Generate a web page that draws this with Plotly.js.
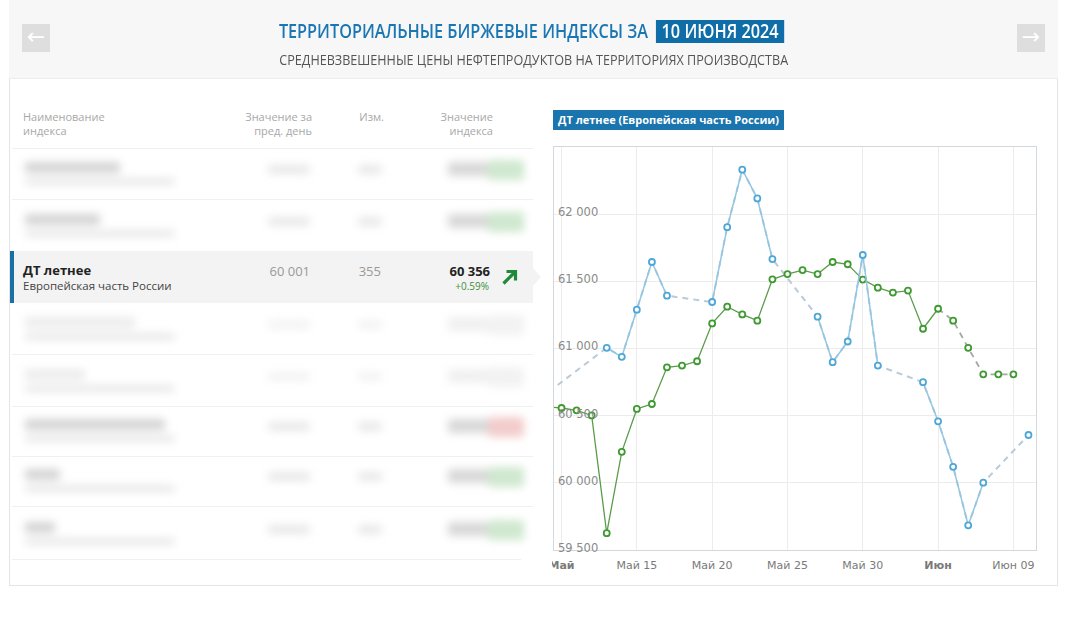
<!DOCTYPE html>
<html><head><meta charset="utf-8">
<script src="https://cdn.plot.ly/plotly-3.0.1.min.js"></script>
<style>
html,body{margin:0;padding:0;background:#fff;width:1078px;height:619px;overflow:hidden;font-family:"Open Sans","DejaVu Sans",sans-serif;}
.abs{position:absolute;}
#card{left:9px;top:0;width:1049px;height:586px;border:1px solid #e4e4e4;border-top:none;background:#fff;box-sizing:border-box;}
#head{left:9px;top:0;width:1049px;height:79px;background:#f7f7f7;border-bottom:1px solid #ececec;box-sizing:border-box;}
#title{left:132px;top:18px;width:800px;text-align:center;white-space:nowrap;}
#title .in{display:inline-block;transform:scaleX(0.855);transform-origin:50% 50%;font-size:19px;color:#1b77b3;font-weight:600;}
#title .date{display:inline-block;background:#0f6ea8;color:#fff;padding:0 7px;line-height:23px;margin-left:4px;}
#sub{left:134px;top:48px;width:800px;text-align:center;white-space:nowrap;}
#sub .in{display:inline-block;transform:scaleX(0.9);transform-origin:50% 50%;font-size:14px;color:#555;}
.navbtn{width:28px;height:28px;top:24px;background:#dedede;color:#fff;font-size:22px;line-height:26px;text-align:center;font-family:"DejaVu Sans",sans-serif;}
.th{font-size:11px;color:#a8a8a8;line-height:14px;top:110px;}
.sep{left:12px;width:521px;height:1px;background:#f0f0f0;}
.blur{filter:blur(4px);}
.bb{position:absolute;border-radius:3px;}
.cell{font-size:13px;color:#999;top:262px;text-align:right;}
</style></head>
<body>
<div id="card" class="abs"></div>
<div id="head" class="abs"></div>
<div class="abs navbtn" style="left:22px;">&#8592;</div>
<div class="abs navbtn" style="left:1017px;">&#8594;</div>
<div id="title" class="abs"><span class="in">ТЕРРИТОРИАЛЬНЫЕ БИРЖЕВЫЕ ИНДЕКСЫ ЗА <span class="date">10 ИЮНЯ 2024</span></span></div>
<div id="sub" class="abs"><span class="in">СРЕДНЕВЗВЕШЕННЫЕ ЦЕНЫ НЕФТЕПРОДУКТОВ НА ТЕРРИТОРИЯХ ПРОИЗВОДСТВА</span></div>

<!-- table header -->
<div class="abs th" style="left:23px;">Наименование<br>индекса</div>
<div class="abs th" style="left:212px;width:100px;text-align:right;">Значение за<br>пред. день</div>
<div class="abs th" style="left:334px;width:50px;text-align:right;">Изм.</div>
<div class="abs th" style="left:393px;width:100px;text-align:right;">Значение<br>индекса</div>
<div class="abs sep" style="top:148px;"></div>
<div id="rows"></div>

<!-- selected row -->
<div class="abs" style="left:10px;top:251px;width:523px;height:52px;background:#f3f3f3;"></div>
<div class="abs" style="left:533px;top:268px;width:0;height:0;border-top:9px solid transparent;border-bottom:9px solid transparent;border-left:8px solid #f3f3f3;"></div>
<div class="abs" style="left:10px;top:251px;width:4px;height:52px;background:#1a6fa3;"></div>
<div class="abs" style="left:23px;top:261px;font-size:13px;font-weight:bold;color:#222;">ДТ летнее</div>
<div class="abs" style="left:23px;top:278px;font-size:11.5px;color:#444;">Европейская часть России</div>
<div class="abs cell" style="left:230px;width:80px;">60 001</div>
<div class="abs cell" style="left:320px;width:61px;">355</div>
<div class="abs cell" style="left:400px;width:90px;color:#222;font-weight:bold;">60 356</div>
<div class="abs" style="left:400px;top:279px;width:89px;text-align:right;font-size:10px;color:#3d8f3d;">+0.59%</div>
<svg class="abs" style="left:501px;top:268px;" width="18" height="18" viewBox="0 0 18 18">
  <line x1="2.5" y1="15.5" x2="14.5" y2="3.5" stroke="#1f8a3a" stroke-width="3.2"/>
  <polyline points="5.5,3.5 14.5,3.5 14.5,12.5" fill="none" stroke="#1f8a3a" stroke-width="3.2"/>
</svg>

<!-- chart title -->
<div class="abs" style="left:553px;top:110px;width:231px;height:20px;background:#1a74ad;color:#fff;font-size:11px;font-weight:bold;line-height:20px;text-align:center;font-family:'Open Sans','DejaVu Sans',sans-serif;">ДТ летнее (Европейская часть России)</div>

<div id="chart" class="abs" style="left:521px;top:95px;width:539px;height:490px;"></div>
<!-- clip left edge of the chart's first tick label like the reference -->
<div class="abs" style="left:521px;top:552px;width:31px;height:28px;background:#fff;"></div>

<script>
// ---- data ----
const dates = [
  '2024-05-08','2024-05-09','2024-05-10','2024-05-11','2024-05-12','2024-05-13','2024-05-14',
  '2024-05-15','2024-05-16','2024-05-17','2024-05-18','2024-05-19','2024-05-20','2024-05-21',
  '2024-05-22','2024-05-23','2024-05-24','2024-05-25','2024-05-26','2024-05-27','2024-05-28',
  '2024-05-29','2024-05-30','2024-05-31','2024-06-01','2024-06-02','2024-06-03','2024-06-04',
  '2024-06-05','2024-06-06','2024-06-07','2024-06-08','2024-06-09','2024-06-10'
];
// exchange index (blue) – trading days only
const blueValues = [
  60580, null, null, null, null, 61005, 60938,
  61289, 61644, 61393, null, null, 61346, 61903,
  62331, 62117, 61666, null, null, 61237, 60898,
  61052, 61696, 60873, null, null, 60749, 60458,
  60119, 59684, 60001, null, null, 60356
];
// second series (green) – daily
const greenValues = [
  null, 60567, 60557, 60540, 60502, 59625, 60231,
  60550, 60587, 60860, 60873, 60905, 61187, 61311,
  61254, 61207, 61515, 61554, 61584, 61554, 61644,
  61627, 61513, 61453, 61416, 61431, 61147, 61296,
  61207, 61005, 60808, 60808, 60808, null
];
const greenDashFrom = '2024-06-04';
const tickDates = ['2024-05-10','2024-05-15','2024-05-20','2024-05-25','2024-05-30','2024-06-04','2024-06-09'];
const tickLabels = ['<b>Май</b>','Май 15','Май 20','Май 25','Май 30','<b>Июн</b>','Июн 09'];
const yTicks = [59500, 60000, 60500, 61000, 61500, 62000];
const yRange = [59500, 62500];

// ---- blurred table rows (content hidden in reference) ----
const rowTops = [148, 200, 303, 355, 405, 455, 508];
const rowNameW = [95, 75, 110, 60, 140, 35, 30];
const rowTone = ['g','g','n','n','r','g','g'];
(function(){
  const host = document.getElementById('rows');
  rowTops.forEach((t,i)=>{
    const d = document.createElement('div');
    d.className='abs blur'; d.style.left='0'; d.style.top=t+'px'; d.style.width='540px'; d.style.height='50px';
    const dark = rowTone[i]==='n' ? '#ececec' : '#d4d4d4';
    let h = '';
    h += `<div class="bb" style="left:25px;top:14px;width:${rowNameW[i]}px;height:11px;background:${dark};"></div>`;
    h += `<div class="bb" style="left:25px;top:30px;width:150px;height:7px;background:#e8e8e8;"></div>`;
    h += `<div class="bb" style="left:268px;top:17px;width:42px;height:9px;background:${rowTone[i]==='n'?'#f3f3f3':'#e8e8e8'};"></div>`;
    h += `<div class="bb" style="left:358px;top:17px;width:24px;height:9px;background:${rowTone[i]==='n'?'#f3f3f3':'#e8e8e8'};"></div>`;
    const acc = rowTone[i]==='g' ? '#cfe8cf' : rowTone[i]==='r' ? '#f3cccc' : '#f2f2f2';
    h += `<div class="bb" style="left:448px;top:14px;width:42px;height:14px;background:${rowTone[i]==='n'?'#f0f0f0':'#d8d8d8'};"></div>`;
    h += `<div class="bb" style="left:488px;top:12px;width:36px;height:20px;background:${acc};"></div>`;
    d.innerHTML = h;
    host.appendChild(d);
    const s = document.createElement('div');
    s.className='abs sep'; s.style.top=(t+51)+'px';
    host.appendChild(s);
  });
})();

// ---- build traces ----
function pick(vals){ const x=[],y=[]; vals.forEach((v,i)=>{ if(v!==null){x.push(dates[i]);y.push(v);} }); return {x,y}; }
const blueAll = pick(blueValues);
const greenSolidY = greenValues.map((v,i)=> dates[i] <= greenDashFrom ? v : null);
const greenDashY  = greenValues.map((v,i)=> dates[i] >= greenDashFrom ? v : null);

const BLUE_LINE='#93c6e2', BLUE_MK='#4ea7d8', BLUE_DASH='#b9cad8';
const GREEN_LINE='#5b9c4b', GREEN_MK='#3f9a31', GREEN_DASH='#a2aaa2';

const traces = [
  {x: blueAll.x, y: blueAll.y, mode:'lines', line:{color:BLUE_DASH, width:2, dash:'6px,5px'}, hoverinfo:'skip'},
  {x: dates, y: greenSolidY, mode:'lines', line:{color:GREEN_LINE, width:1.3}, connectgaps:false},
  {x: dates, y: greenDashY, mode:'lines', line:{color:GREEN_DASH, width:1.8, dash:'6px,5px'}, connectgaps:false},
  {x: dates, y: greenValues, mode:'markers', marker:{symbol:'circle', size:6, color:'#fff', line:{color:GREEN_MK, width:1.8}}},
  {x: dates, y: blueValues, yaxis:'y2', mode:'lines+markers', connectgaps:false, line:{color:BLUE_LINE, width:1.5},
   marker:{symbol:'circle', size:6, color:'#fff', line:{color:BLUE_MK, width:1.8}}}
];

const layout = {
  width:539, height:490,
  margin:{l:33, r:24, t:52, b:35},
  paper_bgcolor:'rgba(0,0,0,0)', plot_bgcolor:'#fff',
  showlegend:false,
  separators:', ',
  font:{family:'DejaVu Sans, sans-serif', size:11, color:'#777'},
  xaxis:{type:'date', range:['2024-05-09 12:00','2024-06-10 12:00'],
    tickmode:'array', tickvals:tickDates, ticktext:tickLabels,
    ticklabeloverflow:'allow', ticklabelstandoff:5,
    showgrid:true, gridcolor:'#ececec', gridwidth:1, zeroline:false,
    showline:true, mirror:true, linecolor:'#d3d8de', linewidth:1, ticks:'',
    tickfont:{size:11, color:'#7a7a7a'}},
  yaxis:{range:yRange, tickmode:'array', tickvals:yTicks, showticklabels:false,
    showgrid:true, gridcolor:'#ececec', zeroline:false,
    showline:true, mirror:true, linecolor:'#d3d8de', linewidth:1, ticks:''},
  yaxis2:{range:yRange, overlaying:'y', anchor:'free', position:0, side:'left',
    tickmode:'array', tickvals:yTicks, tickformat:',d',
    ticklabelposition:'inside top', ticklabelshift:6, ticklabelstandoff:0, ticklabeloverflow:'allow',
    showgrid:false, zeroline:false, showline:false, ticks:'',
    tickfont:{size:11.5, color:'#8a8a8a'}}
};
Plotly.newPlot('chart', traces, layout, {displayModeBar:false, staticPlot:true});
</script>
</body></html>
